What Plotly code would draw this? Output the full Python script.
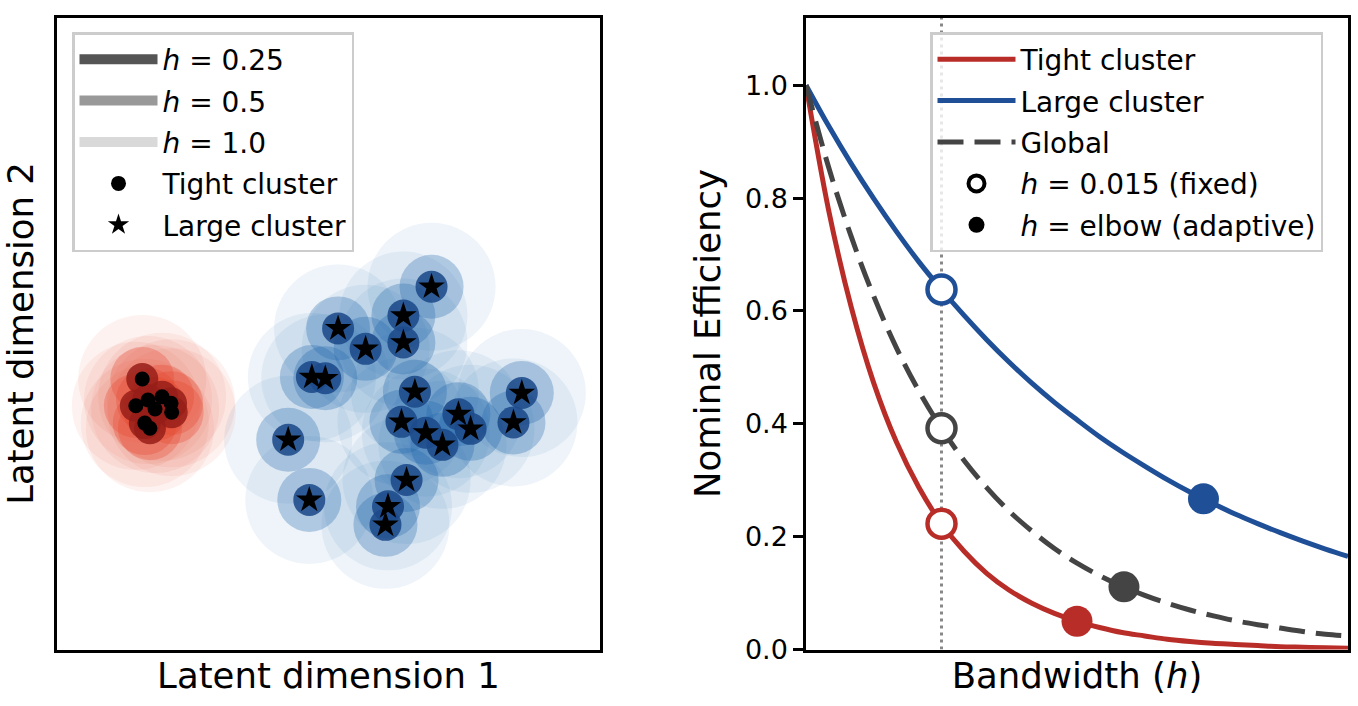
import plotly.graph_objects as go

# ---------------- data ----------------
# Left panel: latent embeddings (arbitrary latent units)
tight_x = [-2.91, -3.01, -2.82, -2.60, -2.46, -2.45, -2.71, -2.87, -2.79]
tight_y = [-0.71, -1.13, -1.04, -0.99, -1.09, -1.23, -1.18, -1.40, -1.48]

large_x = [1.61, 1.17, 0.15, 0.58, 1.17, -0.26, -0.05, 1.35, 3.02, 1.14,
           2.03, 2.22, 1.52, 1.78, 2.89, -0.63, 1.22, 0.93, 0.89, -0.30]
large_y = [0.73, 0.28, 0.08, -0.24, -0.14, -0.68, -0.70, -0.91, -0.93, -1.38,
           -1.26, -1.49, -1.55, -1.74, -1.39, -1.66, -2.29, -2.70, -2.99, -2.60]

bandwidths = [1.0, 0.5, 0.25]
bandwidth_labels = ["<i>h</i> = 0.25", "<i>h</i> = 0.5", "<i>h</i> = 1.0"]

# Right panel: nominal efficiency vs bandwidth
h_grid = [0.0, 0.0025, 0.005, 0.0075, 0.01, 0.0125, 0.015, 0.0175, 0.02, 0.0225,
          0.025, 0.0275, 0.03, 0.0325, 0.035, 0.0375, 0.04, 0.0425, 0.045, 0.0475,
          0.05, 0.0525, 0.055, 0.0575, 0.06]
eff_tight = [1.000, 0.779, 0.607, 0.472, 0.368, 0.287, 0.223, 0.174, 0.135, 0.105,
             0.082, 0.064, 0.050, 0.039, 0.030, 0.024, 0.018, 0.014, 0.011, 0.009,
             0.007, 0.005, 0.004, 0.003, 0.002]
eff_large = [1.000, 0.928, 0.861, 0.799, 0.741, 0.687, 0.638, 0.592, 0.549, 0.509,
             0.472, 0.438, 0.407, 0.377, 0.350, 0.325, 0.301, 0.279, 0.259, 0.240,
             0.223, 0.207, 0.192, 0.178, 0.165]
eff_global = [1.000, 0.855, 0.732, 0.626, 0.535, 0.458, 0.392, 0.335, 0.287, 0.245,
              0.210, 0.179, 0.153, 0.131, 0.112, 0.096, 0.082, 0.070, 0.060, 0.051,
              0.044, 0.038, 0.032, 0.027, 0.024]

h_fixed = 0.015
fixed_eff = {"tight": 0.223, "global": 0.392, "large": 0.638}
h_elbow = {"tight": 0.030, "global": 0.0352, "large": 0.044}
elbow_eff = {"tight": 0.050, "global": 0.111, "large": 0.267}

# ---------------- styles ----------------
FONT = "DejaVu Sans"
RED = "#b92d28"
BLUE = "#1f4f96"
GRAY = "#444444"

red_fill = {1.0: "rgba(228,80,50,0.075)", 0.5: "rgba(228,70,45,0.30)", 0.25: "rgba(150,30,25,0.85)"}
blue_fill = {1.0: "rgba(33,102,172,0.075)", 0.5: "rgba(33,102,172,0.30)", 0.25: "rgba(28,74,138,0.88)"}
legend_patch = {1.0: "#d9d9d9", 0.5: "#999999", 0.25: "#555555"}

fig = go.Figure()

# ---------- left panel: bandwidth circles ----------
shapes = []
for h in bandwidths:
    for xs, ys, fills in ((tight_x, tight_y, red_fill), (large_x, large_y, blue_fill)):
        for cx, cy in zip(xs, ys):
            shapes.append(dict(type="circle", xref="x", yref="y",
                               x0=cx - h, x1=cx + h, y0=cy - h, y1=cy + h,
                               fillcolor=fills[h], line=dict(width=0), layer="below"))

# legend patches for bandwidths
for h, lab in zip([0.25, 0.5, 1.0], bandwidth_labels):
    fig.add_trace(go.Scatter(x=[None], y=[None], mode="lines", name=lab,
                             line=dict(color=legend_patch[h], width=20),
                             xaxis="x", yaxis="y", legend="legend",
                             legendgroup=lab))

fig.add_trace(go.Scatter(x=tight_x, y=tight_y, mode="markers", name="Tight cluster",
                         marker=dict(symbol="circle", size=15, color="black"),
                         xaxis="x", yaxis="y", legend="legend", legendgroup="tc"))
fig.add_trace(go.Scatter(x=large_x, y=large_y, mode="markers", name="Large cluster",
                         marker=dict(symbol="star", size=20, color="black"),
                         xaxis="x", yaxis="y", legend="legend", legendgroup="lc"))

# ---------- right panel ----------
fig.add_trace(go.Scatter(x=[h_fixed, h_fixed], y=[0, 1.12], mode="lines",
                         line=dict(color="#888888", width=3, dash="3px,4px"),
                         xaxis="x2", yaxis="y2", showlegend=False, hoverinfo="skip"))

fig.add_trace(go.Scatter(x=h_grid, y=eff_tight, mode="lines", name="Tight cluster",
                         line=dict(color=RED, width=5, shape="spline"),
                         xaxis="x2", yaxis="y2", legend="legend2", legendgroup="r1"))
fig.add_trace(go.Scatter(x=h_grid, y=eff_large, mode="lines", name="Large cluster",
                         line=dict(color=BLUE, width=5, shape="spline"),
                         xaxis="x2", yaxis="y2", legend="legend2", legendgroup="r2"))
fig.add_trace(go.Scatter(x=h_grid, y=eff_global, mode="lines", name="Global",
                         line=dict(color=GRAY, width=5, dash="26px,11px", shape="spline"),
                         xaxis="x2", yaxis="y2", legend="legend2", legendgroup="r3"))

for key, col in (("tight", RED), ("global", GRAY), ("large", BLUE)):
    fig.add_trace(go.Scatter(x=[h_fixed], y=[fixed_eff[key]], mode="markers",
                             marker=dict(symbol="circle", size=28, color="white",
                                         line=dict(color=col, width=4.5)),
                             xaxis="x2", yaxis="y2", showlegend=False))
    fig.add_trace(go.Scatter(x=[h_elbow[key]], y=[elbow_eff[key]], mode="markers",
                             marker=dict(symbol="circle", size=31, color=col),
                             xaxis="x2", yaxis="y2", showlegend=False))

fig.add_trace(go.Scatter(x=[None], y=[None], mode="markers",
                         name="<i>h</i> = 0.015 (fixed)",
                         marker=dict(symbol="circle", size=18, color="white",
                                     line=dict(color="black", width=4)),
                         xaxis="x2", yaxis="y2", legend="legend2", legendgroup="r4"))
fig.add_trace(go.Scatter(x=[None], y=[None], mode="markers",
                         name="<i>h</i> = elbow (adaptive)",
                         marker=dict(symbol="circle", size=16, color="black"),
                         xaxis="x2", yaxis="y2", legend="legend2", legendgroup="r5"))

axis_common = dict(showgrid=False, zeroline=False, showline=True, linecolor="black",
                   linewidth=2.5, mirror=True, automargin=False)

ydom = [1 - 649.5 / 706, 1 - 17.5 / 706]
legend_common = dict(font=dict(family=FONT, size=28, color="black"),
                     bgcolor="rgba(255,255,255,0.8)", bordercolor="#cccccc", borderwidth=2.5,
                     xanchor="left", yanchor="top", traceorder="grouped", tracegroupgap=2,
                     itemwidth=78)

fig.update_layout(
    width=1358, height=706,
    margin=dict(l=0, r=0, t=0, b=0),
    paper_bgcolor="white", plot_bgcolor="white",
    font=dict(family=FONT, color="black"),
    shapes=shapes,
    showlegend=True,
    xaxis=dict(domain=[57 / 1358, 600 / 1358], range=[-4.242, 4.242],
               showticklabels=False, ticks="",
               title=dict(text="Latent dimension 1", font=dict(size=35.5), standoff=12),
               **axis_common),
    yaxis=dict(domain=ydom, range=[-4.9375, 4.9375],
               showticklabels=False, ticks="",
               title=dict(text="Latent dimension 2", font=dict(size=35.5), standoff=10),
               **axis_common),
    xaxis2=dict(domain=[806 / 1358, 1348 / 1358], range=[0, 0.06], anchor="y2",
                showticklabels=False, ticks="",
                title=dict(text="Bandwidth (<i>h</i>)", font=dict(size=35.5), standoff=12),
                **axis_common),
    yaxis2=dict(domain=ydom, range=[0, 1.12], anchor="x2",
                tickvals=[0, 0.2, 0.4, 0.6, 0.8, 1.0], tickformat=".1f",
                ticks="outside", ticklen=10, tickwidth=2.5, tickcolor="black",
                tickfont=dict(size=27),
                title=dict(text="Nominal Efficiency", font=dict(size=35.5), standoff=14),
                **axis_common),
    legend=dict(x=72 / 1358, y=1 - 32 / 706, **legend_common),
    legend2=dict(x=930 / 1358, y=1 - 32 / 706, **legend_common),
)

fig.write_html("out.html")
